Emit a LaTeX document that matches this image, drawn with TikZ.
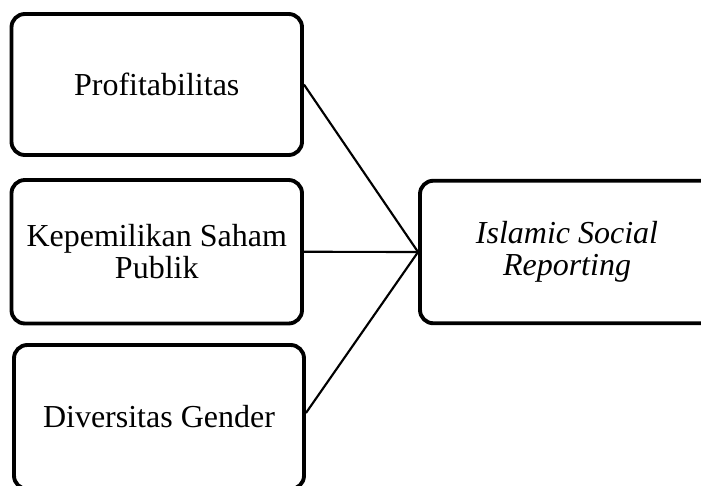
\documentclass[tikz,border=0pt]{standalone}
\usepackage{fontspec}
\setmainfont{Liberation Serif}
\begin{document}
\begin{tikzpicture}[x=0.75pt,y=-0.75pt,
  box/.style={draw=black, line width=2.9pt, rounded corners=10pt, align=center,
    font=\fontsize{24}{24}\selectfont, inner sep=0pt},
  conn/.style={draw=black, line width=1.6pt}]
\clip (0,0) rectangle (701,486);
\fill[white] (0,0) rectangle (701,486);
\node[box, minimum width=217.9pt, minimum height=105.75pt] (b1) at (156.75,84.5) {Profitabilitas};
\node[box, minimum width=217.9pt, minimum height=107.6pt] (b2) at (156.75,251.75) {Kepemilikan Saham\\Publik};
\node[box, minimum width=217.5pt, minimum height=108pt] (b3) at (159,417) {Diversitas Gender};
\node[box, minimum width=220.5pt, minimum height=106.9pt] (d) at (567,252) {\itshape Islamic Social\\\itshape Reporting};
\draw[conn] (b1.east) -- (d.west);
\draw[conn] (b2.east) -- (d.west);
\draw[conn] ([yshift=3pt]b3.east) -- (d.west);
\end{tikzpicture}
\end{document}
